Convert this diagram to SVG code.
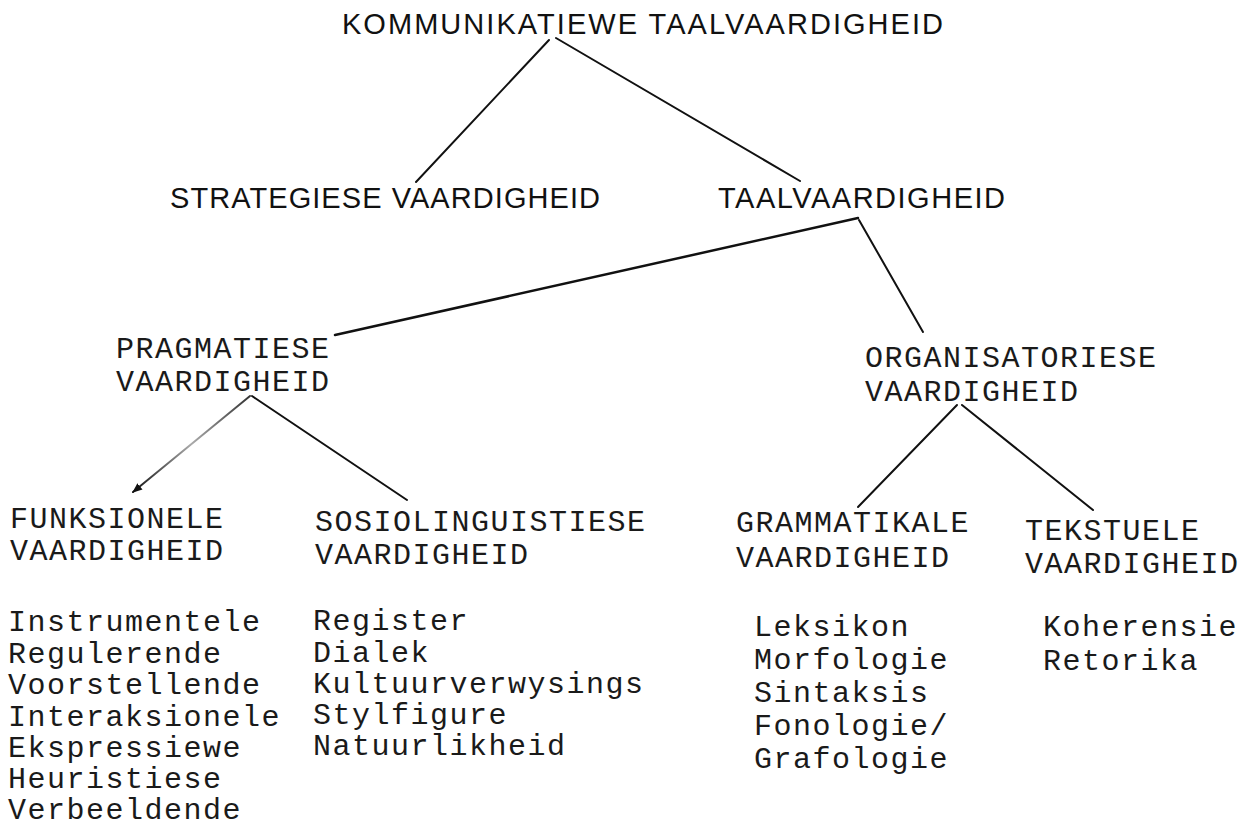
<svg xmlns="http://www.w3.org/2000/svg" width="1251" height="830" viewBox="0 0 1251 830">
<style>
.sans{font-family:"Liberation Sans",Arial,sans-serif;font-size:29px;fill:#111}
.mono{font-family:"Liberation Mono","Courier New",monospace;font-size:30px;letter-spacing:1.5px;fill:#1a1a1a}
.edge{stroke:#111;stroke-width:2;fill:none;stroke-linecap:round}
</style>
<defs>
<linearGradient id="fade" gradientUnits="userSpaceOnUse" x1="250" y1="396" x2="133" y2="492">
<stop offset="0" stop-color="#333"/><stop offset="0.5" stop-color="#aaa"/><stop offset="1" stop-color="#111"/>
</linearGradient>
<marker id="ah" viewBox="0 0 10 10" refX="9" refY="5" markerWidth="5" markerHeight="5" orient="auto" markerUnits="strokeWidth">
<path d="M0,1 L10,5 L0,9 z" fill="#111"/>
</marker>
</defs>
<rect width="1251" height="830" fill="#fff"/>
<g id="connectors">
<line class="edge" x1="549" y1="40" x2="416" y2="182"/>
<line class="edge" x1="556" y1="38" x2="800" y2="181"/>
<line class="edge" x1="858" y1="218" x2="335" y2="335" style="stroke-width:2.5"/>
<line class="edge" x1="859" y1="220" x2="923" y2="332"/>
<line class="edge" x1="250" y1="396" x2="133" y2="492" style="stroke:url(#fade)" marker-end="url(#ah)"/>
<line class="edge" x1="252" y1="396" x2="407" y2="500"/>
<line class="edge" x1="957" y1="405" x2="858" y2="507"/>
<line class="edge" x1="962" y1="405" x2="1093" y2="510"/>
</g>
<g id="n-kommunikatiewe"><text class="sans" x="342" y="34" textLength="601">KOMMUNIKATIEWE TAALVAARDIGHEID</text></g>
<g id="n-strategiese"><text class="sans" x="170" y="208" textLength="430">STRATEGIESE VAARDIGHEID</text></g>
<g id="n-taalvaardigheid"><text class="sans" x="718" y="208" textLength="287">TAALVAARDIGHEID</text></g>
<g id="n-pragmatiese"><text class="mono" x="116" y="358">PRAGMATIESE</text><text class="mono" x="116" y="391">VAARDIGHEID</text></g>
<g id="n-organisatoriese"><text class="mono" x="865" y="367">ORGANISATORIESE</text><text class="mono" x="865" y="401">VAARDIGHEID</text></g>
<g id="n-funksionele"><text class="mono" x="10" y="528">FUNKSIONELE</text><text class="mono" x="10" y="560">VAARDIGHEID</text>
<text class="mono" x="8" y="631">Instrumentele</text><text class="mono" x="8" y="663">Regulerende</text><text class="mono" x="8" y="694">Voorstellende</text><text class="mono" x="8" y="726">Interaksionele</text><text class="mono" x="8" y="757">Ekspressiewe</text><text class="mono" x="8" y="788">Heuristiese</text><text class="mono" x="8" y="819">Verbeeldende</text></g>
<g id="n-sosiolinguistiese"><text class="mono" x="315" y="531">SOSIOLINGUISTIESE</text><text class="mono" x="315" y="564">VAARDIGHEID</text>
<text class="mono" x="313" y="630">Register</text><text class="mono" x="313" y="662">Dialek</text><text class="mono" x="313" y="693">Kultuurverwysings</text><text class="mono" x="313" y="724">Stylfigure</text><text class="mono" x="313" y="755">Natuurlikheid</text></g>
<g id="n-grammatikale"><text class="mono" x="736" y="532">GRAMMATIKALE</text><text class="mono" x="736" y="567">VAARDIGHEID</text>
<text class="mono" x="754" y="636">Leksikon</text><text class="mono" x="754" y="669">Morfologie</text><text class="mono" x="754" y="702">Sintaksis</text><text class="mono" x="754" y="735">Fonologie/</text><text class="mono" x="754" y="768">Grafologie</text></g>
<g id="n-tekstuele"><text class="mono" x="1025" y="540">TEKSTUELE</text><text class="mono" x="1025" y="573">VAARDIGHEID</text>
<text class="mono" x="1043" y="636">Koherensie</text><text class="mono" x="1043" y="670">Retorika</text></g>
</svg>
